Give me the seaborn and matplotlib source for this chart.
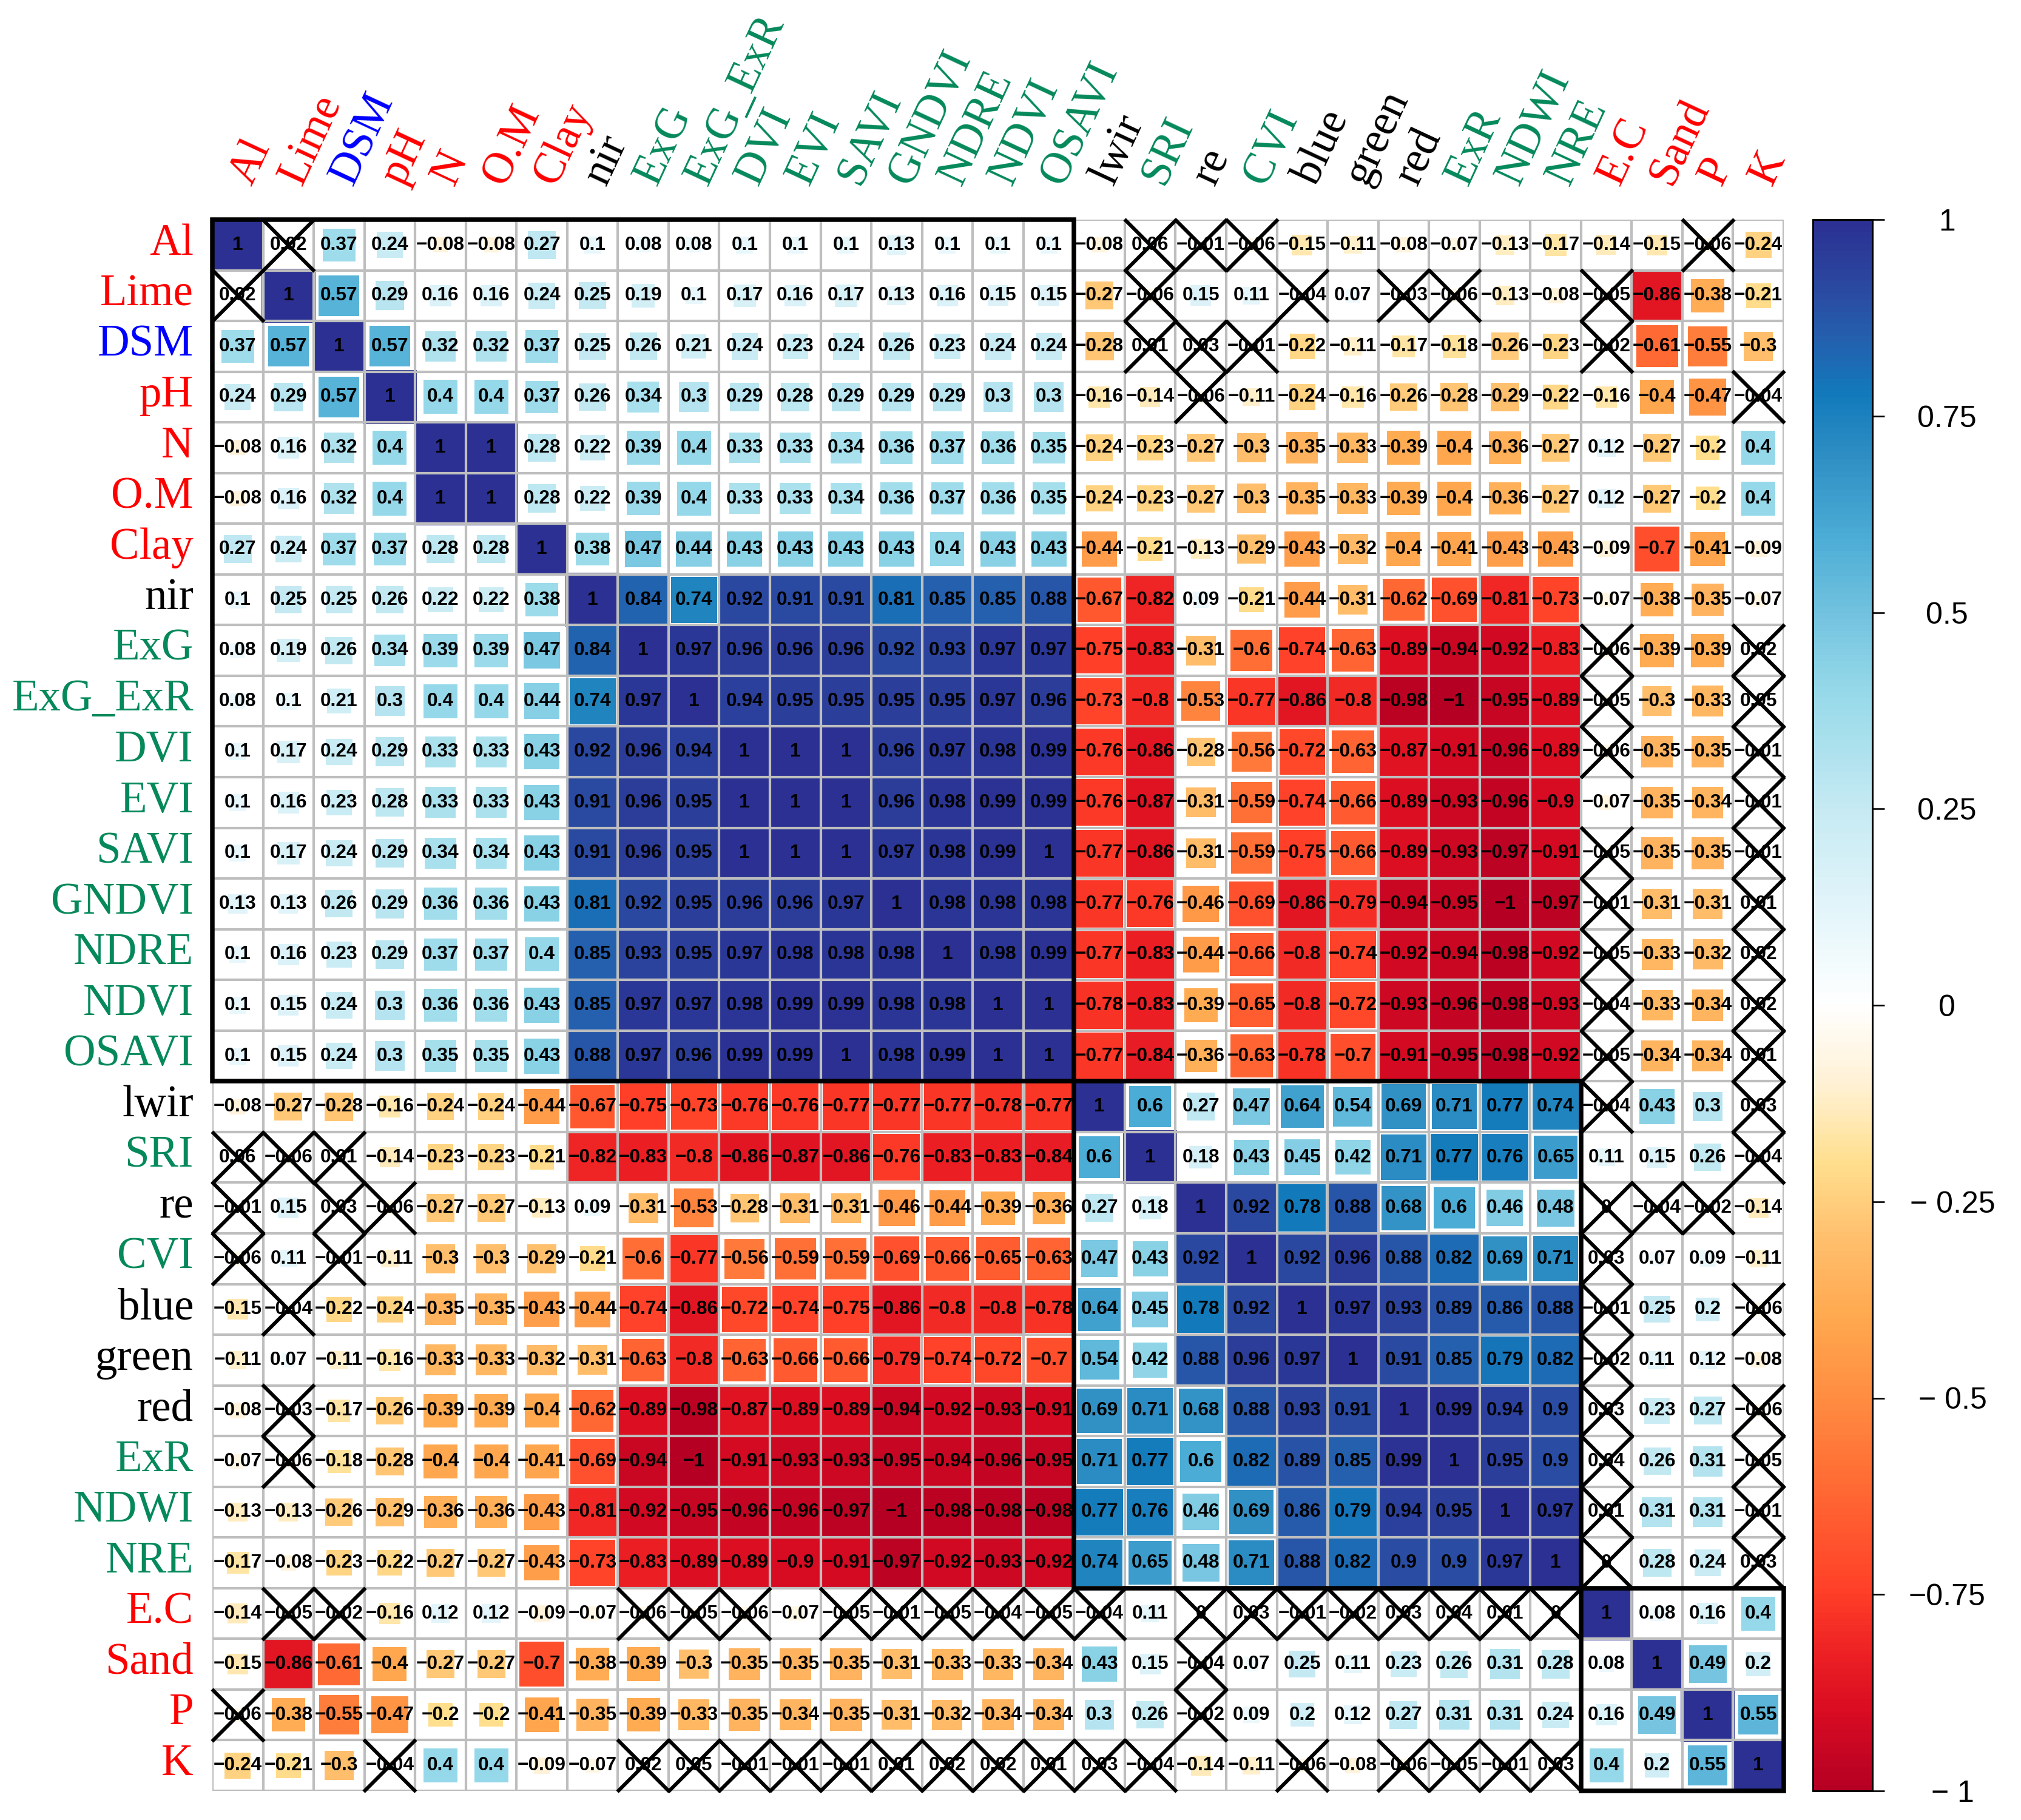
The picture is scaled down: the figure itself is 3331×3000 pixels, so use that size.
import numpy as np
import pandas as pd
import matplotlib
matplotlib.use("Agg")
import matplotlib.pyplot as plt
import matplotlib.transforms as mtrans
from matplotlib.colors import LinearSegmentedColormap
from matplotlib.patches import Rectangle
import seaborn as sns

RED, BLUE, GREEN, BLACK = "#FF0000", "#0000FF", "#05895A", "#000000"

variables = ["Al", "Lime", "DSM", "pH", "N", "O.M", "Clay", "nir", "ExG", "ExG_ExR", "DVI", "EVI", "SAVI",
             "GNDVI", "NDRE", "NDVI", "OSAVI", "lwir", "SRI", "re", "CVI", "blue", "green", "red", "ExR",
             "NDWI", "NRE", "E.C", "Sand", "P", "K"]
label_colors = [RED, RED, BLUE, RED, RED, RED, RED, BLACK, GREEN, GREEN, GREEN, GREEN, GREEN,
                GREEN, GREEN, GREEN, GREEN, BLACK, GREEN, BLACK, GREEN, BLACK, BLACK, BLACK, GREEN,
                GREEN, GREEN, RED, RED, RED, RED]

r_Al = [1, .02, .37, .24, -.08, -.08, .27, .1, .08, .08, .1, .1, .1, .13, .1, .1, .1, -.08, .06, -.01, -.06, -.15, -.11, -.08, -.07, -.13, -.17, -.14, -.15, -.06, -.24]
r_Lime = [.02, 1, .57, .29, .16, .16, .24, .25, .19, .1, .17, .16, .17, .13, .16, .15, .15, -.27, -.06, .15, .11, -.04, .07, -.03, -.06, -.13, -.08, -.05, -.86, -.38, -.21]
r_DSM = [.37, .57, 1, .57, .32, .32, .37, .25, .26, .21, .24, .23, .24, .26, .23, .24, .24, -.28, .01, .03, -.01, -.22, -.11, -.17, -.18, -.26, -.23, -.02, -.61, -.55, -.3]
r_pH = [.24, .29, .57, 1, .4, .4, .37, .26, .34, .3, .29, .28, .29, .29, .29, .3, .3, -.16, -.14, -.06, -.11, -.24, -.16, -.26, -.28, -.29, -.22, -.16, -.4, -.47, -.04]
r_N = [-.08, .16, .32, .4, 1, 1, .28, .22, .39, .4, .33, .33, .34, .36, .37, .36, .35, -.24, -.23, -.27, -.3, -.35, -.33, -.39, -.4, -.36, -.27, .12, -.27, -.2, .4]
r_OM = [-.08, .16, .32, .4, 1, 1, .28, .22, .39, .4, .33, .33, .34, .36, .37, .36, .35, -.24, -.23, -.27, -.3, -.35, -.33, -.39, -.4, -.36, -.27, .12, -.27, -.2, .4]
r_Clay = [.27, .24, .37, .37, .28, .28, 1, .38, .47, .44, .43, .43, .43, .43, .4, .43, .43, -.44, -.21, -.13, -.29, -.43, -.32, -.4, -.41, -.43, -.43, -.09, -.7, -.41, -.09]
r_nir = [.1, .25, .25, .26, .22, .22, .38, 1, .84, .74, .92, .91, .91, .81, .85, .85, .88, -.67, -.82, .09, -.21, -.44, -.31, -.62, -.69, -.81, -.73, -.07, -.38, -.35, -.07]
r_ExG = [.08, .19, .26, .34, .39, .39, .47, .84, 1, .97, .96, .96, .96, .92, .93, .97, .97, -.75, -.83, -.31, -.6, -.74, -.63, -.89, -.94, -.92, -.83, -.06, -.39, -.39, .02]
r_ExG_ExR = [.08, .1, .21, .3, .4, .4, .44, .74, .97, 1, .94, .95, .95, .95, .95, .97, .96, -.73, -.8, -.53, -.77, -.86, -.8, -.98, -1, -.95, -.89, -.05, -.3, -.33, .05]
r_DVI = [.1, .17, .24, .29, .33, .33, .43, .92, .96, .94, 1, 1, 1, .96, .97, .98, .99, -.76, -.86, -.28, -.56, -.72, -.63, -.87, -.91, -.96, -.89, -.06, -.35, -.35, -.01]
r_EVI = [.1, .16, .23, .28, .33, .33, .43, .91, .96, .95, 1, 1, 1, .96, .98, .99, .99, -.76, -.87, -.31, -.59, -.74, -.66, -.89, -.93, -.96, -.9, -.07, -.35, -.34, -.01]
r_SAVI = [.1, .17, .24, .29, .34, .34, .43, .91, .96, .95, 1, 1, 1, .97, .98, .99, 1, -.77, -.86, -.31, -.59, -.75, -.66, -.89, -.93, -.97, -.91, -.05, -.35, -.35, -.01]
r_GNDVI = [.13, .13, .26, .29, .36, .36, .43, .81, .92, .95, .96, .96, .97, 1, .98, .98, .98, -.77, -.76, -.46, -.69, -.86, -.79, -.94, -.95, -1, -.97, -.01, -.31, -.31, .01]
r_NDRE = [.1, .16, .23, .29, .37, .37, .4, .85, .93, .95, .97, .98, .98, .98, 1, .98, .99, -.77, -.83, -.44, -.66, -.8, -.74, -.92, -.94, -.98, -.92, -.05, -.33, -.32, .02]
r_NDVI = [.1, .15, .24, .3, .36, .36, .43, .85, .97, .97, .98, .99, .99, .98, .98, 1, 1, -.78, -.83, -.39, -.65, -.8, -.72, -.93, -.96, -.98, -.93, -.04, -.33, -.34, .02]
r_OSAVI = [.1, .15, .24, .3, .35, .35, .43, .88, .97, .96, .99, .99, 1, .98, .99, 1, 1, -.77, -.84, -.36, -.63, -.78, -.7, -.91, -.95, -.98, -.92, -.05, -.34, -.34, .01]
r_lwir = [-.08, -.27, -.28, -.16, -.24, -.24, -.44, -.67, -.75, -.73, -.76, -.76, -.77, -.77, -.77, -.78, -.77, 1, .6, .27, .47, .64, .54, .69, .71, .77, .74, -.04, .43, .3, .03]
r_SRI = [.06, -.06, .01, -.14, -.23, -.23, -.21, -.82, -.83, -.8, -.86, -.87, -.86, -.76, -.83, -.83, -.84, .6, 1, .18, .43, .45, .42, .71, .77, .76, .65, .11, .15, .26, -.04]
r_re = [-.01, .15, .03, -.06, -.27, -.27, -.13, .09, -.31, -.53, -.28, -.31, -.31, -.46, -.44, -.39, -.36, .27, .18, 1, .92, .78, .88, .68, .6, .46, .48, 0, -.04, -.02, -.14]
r_CVI = [-.06, .11, -.01, -.11, -.3, -.3, -.29, -.21, -.6, -.77, -.56, -.59, -.59, -.69, -.66, -.65, -.63, .47, .43, .92, 1, .92, .96, .88, .82, .69, .71, .03, .07, .09, -.11]
r_blue = [-.15, -.04, -.22, -.24, -.35, -.35, -.43, -.44, -.74, -.86, -.72, -.74, -.75, -.86, -.8, -.8, -.78, .64, .45, .78, .92, 1, .97, .93, .89, .86, .88, -.01, .25, .2, -.06]
r_green = [-.11, .07, -.11, -.16, -.33, -.33, -.32, -.31, -.63, -.8, -.63, -.66, -.66, -.79, -.74, -.72, -.7, .54, .42, .88, .96, .97, 1, .91, .85, .79, .82, -.02, .11, .12, -.08]
r_red = [-.08, -.03, -.17, -.26, -.39, -.39, -.4, -.62, -.89, -.98, -.87, -.89, -.89, -.94, -.92, -.93, -.91, .69, .71, .68, .88, .93, .91, 1, .99, .94, .9, .03, .23, .27, -.06]
r_ExR = [-.07, -.06, -.18, -.28, -.4, -.4, -.41, -.69, -.94, -1, -.91, -.93, -.93, -.95, -.94, -.96, -.95, .71, .77, .6, .82, .89, .85, .99, 1, .95, .9, .04, .26, .31, -.05]
r_NDWI = [-.13, -.13, -.26, -.29, -.36, -.36, -.43, -.81, -.92, -.95, -.96, -.96, -.97, -1, -.98, -.98, -.98, .77, .76, .46, .69, .86, .79, .94, .95, 1, .97, .01, .31, .31, -.01]
r_NRE = [-.17, -.08, -.23, -.22, -.27, -.27, -.43, -.73, -.83, -.89, -.89, -.9, -.91, -.97, -.92, -.93, -.92, .74, .65, .48, .71, .88, .82, .9, .9, .97, 1, 0, .28, .24, .03]
r_EC = [-.14, -.05, -.02, -.16, .12, .12, -.09, -.07, -.06, -.05, -.06, -.07, -.05, -.01, -.05, -.04, -.05, -.04, .11, 0, .03, -.01, -.02, .03, .04, .01, 0, 1, .08, .16, .4]
r_Sand = [-.15, -.86, -.61, -.4, -.27, -.27, -.7, -.38, -.39, -.3, -.35, -.35, -.35, -.31, -.33, -.33, -.34, .43, .15, -.04, .07, .25, .11, .23, .26, .31, .28, .08, 1, .49, .2]
r_P = [-.06, -.38, -.55, -.47, -.2, -.2, -.41, -.35, -.39, -.33, -.35, -.34, -.35, -.31, -.32, -.34, -.34, .3, .26, -.02, .09, .2, .12, .27, .31, .31, .24, .16, .49, 1, .55]
r_K = [-.24, -.21, -.3, -.04, .4, .4, -.09, -.07, .02, .05, -.01, -.01, -.01, .01, .02, .02, .01, .03, -.04, -.14, -.11, -.06, -.08, -.06, -.05, -.01, .03, .4, .2, .55, 1]

rows = [r_Al, r_Lime, r_DSM, r_pH, r_N, r_OM, r_Clay, r_nir, r_ExG, r_ExG_ExR, r_DVI, r_EVI, r_SAVI,
        r_GNDVI, r_NDRE, r_NDVI, r_OSAVI, r_lwir, r_SRI, r_re, r_CVI, r_blue, r_green, r_red, r_ExR,
        r_NDWI, r_NRE, r_EC, r_Sand, r_P, r_K]

group_sizes = [17, 10, 4]
cross_limit = 0.065

colorbar_ticks = [-1, -.75, -.5, -.25, 0, .25, .5, .75, 1]
colorbar_labels = ["\u2212 1", "\u22120.75", "\u2212 0.5", "\u2212 0.25", "0", "0.25", "0.5", "0.75", "1"]

cmap_stops = [(-1, "#B50023"), (-.9, "#D90C22"), (-.83, "#EC2024"), (-.75, "#FF3F28"), (-.6, "#FF6E35"),
              (-.5, "#FF8D42"), (-.4, "#FFA84F"), (-.3, "#FFBE6C"), (-.2, "#FFDF8E"), (-.1, "#FFF1D5"),
              (0, "#FFFFFF"), (.1, "#E8F7FB"), (.25, "#C6EAF3"), (.4, "#96D9E9"), (.5, "#72C2DF"),
              (.6, "#4BACD5"), (.7, "#2F8FC4"), (.78, "#127ABB"), (.85, "#2460AE"), (.92, "#2B48A0"), (1, "#2B3092")]
cmap = LinearSegmentedColormap.from_list("corr", [((v + 1) / 2, c) for v, c in cmap_stops], N=256)

sns.set_style("white")
plt.rcParams["font.family"] = ["Liberation Sans", "DejaVu Sans"]

W, H, DPI = 3331, 3000, 300
PX = 72 / DPI
fig = plt.figure(figsize=(W / DPI, H / DPI), dpi=DPI, facecolor="white")
X0, X1, Y0, Y1 = 350, 2940, 362, 2952
ax = fig.add_axes([X0 / W, 1 - Y1 / H, (X1 - X0) / W, (Y1 - Y0) / H])
cax = fig.add_axes([2988 / W, 1 - Y1 / H, 98 / W, (Y1 - Y0) / H])

matrix = pd.DataFrame(rows, index=variables, columns=variables, dtype=float)
text_cells = matrix.map(lambda v: f"{v:g}".replace("-", "\u2212"))

sns.heatmap(matrix, ax=ax, cmap=cmap, vmin=-1, vmax=1, annot=text_cells, fmt="",
            annot_kws=dict(color="black", fontsize=7.6, fontweight="bold", family="Liberation Sans"),
            cbar=True, cbar_ax=cax, xticklabels=variables, yticklabels=variables)
ax.collections[0].set_visible(False)   # the cells are drawn as scaled squares below
for t in ax.texts:
    t.set_zorder(3)

n = len(variables)
long = matrix.stack().rename("r").reset_index(drop=True).to_frame()
long["row"] = np.repeat(np.arange(n), n) + 0.5
long["col"] = np.tile(np.arange(n), n) + 0.5
long["mag"] = long["r"].abs()

cell_pt = 88.5 * PX
sns.scatterplot(data=long, x="col", y="row", hue="r", hue_norm=(-1, 1), palette=cmap,
                size="mag", size_norm=(0, 1), sizes=(0, cell_pt ** 2), marker="s",
                linewidth=0, legend=False, ax=ax, clip_on=False, zorder=1)

ax.hlines(np.arange(n + 1), 0, n, color="#BEBEBE", lw=4.2 * PX, zorder=1.5)
ax.vlines(np.arange(n + 1), 0, n, color="#BEBEBE", lw=4.2 * PX, zorder=1.5)

crosses = long[long["mag"] < cross_limit]
sns.scatterplot(data=crosses, x="col", y="row", marker="x", s=(86 * PX) ** 2, color="black",
                legend=False, ax=ax, clip_on=False, zorder=4)
ax.collections[-1].set_linewidth(6 * PX)

start = 0
for size in group_sizes:
    ax.add_patch(Rectangle((start, start), size, size, fill=False, edgecolor="black",
                           lw=7.5 * PX, zorder=5, clip_on=False, joinstyle="miter"))
    start += size

ax.set_xlim(0, n)
ax.set_ylim(n, 0)
ax.set_xlabel("")
ax.set_ylabel("")
ax.xaxis.tick_top()
ax.tick_params(axis="x", length=0, pad=62 * PX)
ax.tick_params(axis="y", length=0, pad=31 * PX)
shift_x = mtrans.ScaledTranslation(6 / DPI, 0, fig.dpi_scale_trans)
shift_y = mtrans.ScaledTranslation(0, 2 / DPI, fig.dpi_scale_trans)
for lab, col in zip(ax.get_xticklabels(), label_colors):
    lab.set(rotation=65, rotation_mode="anchor", ha="left", va="center", color=col,
            family="Liberation Serif", fontsize=17.5)
    lab.set_transform(lab.get_transform() + shift_x)
for lab, col in zip(ax.get_yticklabels(), label_colors):
    lab.set(rotation=0, ha="right", va="center", color=col, family="Liberation Serif", fontsize=17.5)
    lab.set_transform(lab.get_transform() + shift_y)

cbar = ax.collections[0].colorbar
cbar.set_ticks(colorbar_ticks, labels=colorbar_labels)
cbar.outline.set_visible(True)
cbar.outline.set_edgecolor("black")
cbar.outline.set_linewidth(3 * PX)
cax.tick_params(length=20 * PX, width=2.6 * PX, color="black", pad=103 * PX, labelsize=12)
for lab in cax.get_yticklabels():
    lab.set(ha="center", family="Liberation Sans", color="black")
    if lab.get_text().startswith("\u2212 "):
        lab.set_transform(lab.get_transform() + mtrans.ScaledTranslation(9 / DPI, 0, fig.dpi_scale_trans))

fig.savefig("out.png", dpi=DPI, facecolor="white")
